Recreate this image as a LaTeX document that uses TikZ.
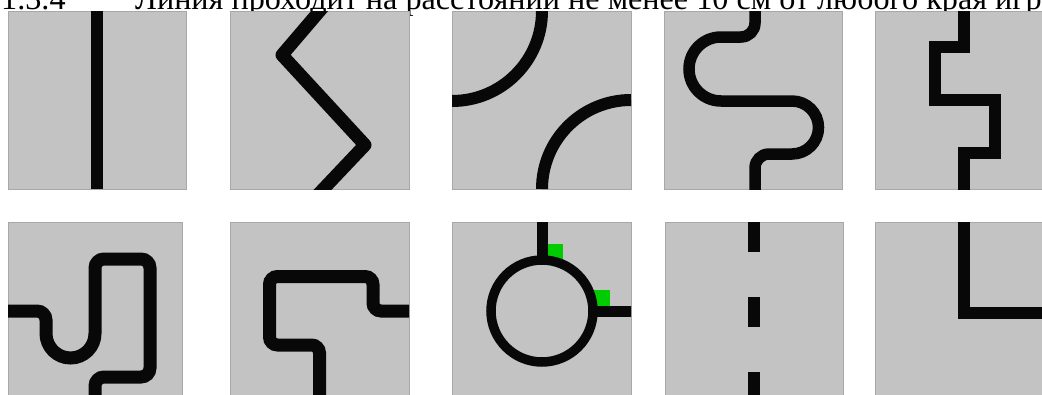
\documentclass[tikz,border=0pt]{standalone}
\usepackage{fontspec}
\setmainfont{Liberation Serif}
\definecolor{tilegray}{RGB}{195,195,195}
\definecolor{tileedge}{RGB}{168,168,168}
\definecolor{trackblack}{RGB}{8,8,8}
\definecolor{markgreen}{RGB}{0,204,0}
\begin{document}
\begin{tikzpicture}[x=1pt,y=-1pt,
  tile/.style={fill=tilegray, draw=tileedge, line width=0.8pt},
  track/.style={draw=trackblack, line width=12pt},
  heading/.style={anchor=base west, inner sep=0pt, font=\fontsize{32.2}{32.2}\selectfont}]
\useasboundingbox (0,0) rectangle (1042,394);

% heading (cut off by the page edge, as in the reference)
\node[heading] (num) at (1,9) {1.3.4};
\node[heading] (rule) at (135,9) {Линия проходит на расстоянии не менее 10 см от любого края игр};

% ---------- top row ----------
% tile 1
\path[tile] (8,11) rectangle (186,189);
\draw[track] (97,11) -- (97,189);

% tile 2
\path[tile] (230,11) rectangle (409,189);
\begin{scope}
  \clip (230,11) rectangle (409,189);
  \draw[track, line width=13pt, line join=round]
    (329,0) -- (282,55) -- (365,145) -- (312,201);
\end{scope}

% tile 3
\path[tile] (452,11) rectangle (631,189);
\begin{scope}
  \clip (452,11) rectangle (631,189);
  \draw[track] (542,11) arc[start angle=0, end angle=90, radius=90];
  \draw[track] (631,100) arc[start angle=270, end angle=180, radius=89];
\end{scope}

% tile 4
\path[tile] (664,11) rectangle (842,189);
\begin{scope}
  \clip (664,11) rectangle (842,189);
  \draw[track, line width=11.5pt]
    (755,5) -- (755,23)
    arc[start angle=0, end angle=90, radius=14] -- (721,37)
    arc[start angle=270, end angle=90, radius=32] -- (792,101)
    arc[start angle=-90, end angle=90, radius=26.5] -- (769,154)
    arc[start angle=270, end angle=180, radius=14] -- (755,195);
\end{scope}

% tile 5
\path[tile] (875,11) rectangle (1053,189);
\begin{scope}
  \clip (875,11) rectangle (1053,189);
  \draw[track, line width=11.5pt, line join=miter]
    (964,5) -- (964,47) -- (935,47) -- (935,100) -- (995,100)
    -- (995,153) -- (964,153) -- (964,195);
\end{scope}

% ---------- bottom row ----------
% tile 6
\path[tile] (8,222) rectangle (182,400);
\begin{scope}
  \clip (8,222) rectangle (182,400);
  \draw[track, line width=13pt]
    (2,311) -- (37,311)
    arc[start angle=270, end angle=360, radius=9] -- (46,333.5)
    arc[start angle=180, end angle=0, radius=24.5] -- (95,268)
    arc[start angle=180, end angle=270, radius=9] -- (141,259)
    arc[start angle=270, end angle=360, radius=9] -- (150,368)
    arc[start angle=0, end angle=90, radius=9] -- (104,377)
    arc[start angle=270, end angle=180, radius=9] -- (95,406);
\end{scope}

% tile 7
\path[tile] (230,222) rectangle (409,400);
\begin{scope}
  \clip (230,222) rectangle (409,400);
  \draw[track, line width=13pt, rounded corners=8pt]
    (415,311) -- (373,311) -- (373,276.5) -- (269.5,276.5)
    -- (269.5,345) -- (319.5,345) -- (319.5,406);
\end{scope}

% tile 8
\path[tile] (452,222) rectangle (631,400);
\fill[markgreen] (548,244) rectangle (563,262);
\fill[markgreen] (590,290) rectangle (610,305.5);
\begin{scope}
  \clip (452,222) rectangle (631,400);
  \draw[track, line width=11pt] (542,216) -- (542,262);
  \draw[track, line width=11pt] (590,311) -- (637,311);
  \draw[track, line width=9.5pt] (542,311) circle[radius=51];
\end{scope}

% tile 9
\path[tile] (665,222) rectangle (843,400);
\draw[track] (754,222) -- (754,252);
\draw[track] (754,297) -- (754,327);
\draw[track] (754,372) -- (754,400);

% tile 10
\path[tile] (875,222) rectangle (1053,400);
\begin{scope}
  \clip (875,222) rectangle (1053,400);
  \draw[track, line join=miter] (964,216) -- (964,312.5) -- (1060,312.5);
\end{scope}
\end{tikzpicture}
\end{document}
